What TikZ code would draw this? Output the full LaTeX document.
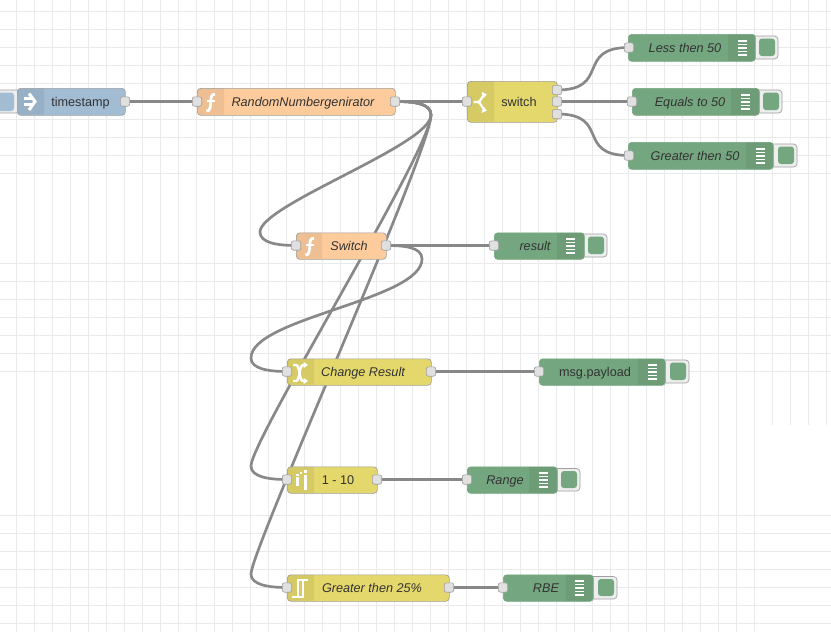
\documentclass[tikz,border=0pt]{standalone}
\usepackage{fontspec}
\setmainfont{Liberation Sans}
\usetikzlibrary{calc}
\pgfdeclarelayer{gridlayer}
\pgfdeclarelayer{wirelayer}
\pgfsetlayers{gridlayer,wirelayer,main}
\definecolor{gridc}{HTML}{EAEAEA}
\definecolor{wirec}{HTML}{888888}
\definecolor{edgec}{HTML}{A0A0A0}
\definecolor{txtc}{HTML}{333333}
\definecolor{inject}{HTML}{A2BCD3}
\definecolor{func}{HTML}{FDCB9C}
\definecolor{yel}{HTML}{E4D76B}
\definecolor{grn}{HTML}{74A67F}
\definecolor{portc}{HTML}{E0E0E0}
\definecolor{btnc}{HTML}{EEEEEE}
\tikzset{
  gridline/.style={gridc,line width=0.7pt},
  wire/.style={wirec,line width=2pt},
  body/.style={draw=edgec,line width=0.5pt,rounded corners=2.6pt,inner sep=0,anchor=north west},
  greenbody/.style={body,draw=grn},
  iconshade/.style={fill=black,fill opacity=0.06},
  port/.style={draw=edgec,fill=portc,line width=0.5pt,rounded corners=1.6pt,minimum size=7pt,inner sep=0},
  lab/.style={text=txtc,inner sep=0,anchor=base,yshift=-3.4pt,font=\fontsize{9.5}{11}\selectfont},
  ilab/.style={lab,font=\fontsize{9.5}{11}\selectfont\itshape},
  icon/.style={white,line width=1.5pt},
  btn/.style={draw=edgec,fill=btnc,line width=0.5pt,rounded corners=2.6pt},
}
% #1 name, #2 x1, #3 x2, #4 y1, #5 y2, #6 fill, #7 body style
\newcommand{\nrbody}[7]{%
  \node[#7,fill=#6,minimum width={(#3-#2)*0.75pt},minimum height={(#5-#4)*0.75pt}] (#1) at (#2,#4) {};
}
% left icon band: x1, y1, y2, divider
\newcommand{\lband}[4]{\fill[iconshade] (#4,#2) -- (#1+3.4,#2) arc[start angle=90,end angle=180,radius=2.6pt] -- (#1,#3-3.4) arc[start angle=180,end angle=270,radius=2.6pt] -- (#4,#3) -- cycle;}
% right band for debug nodes (div,x2,y1,y2)
\newcommand{\rband}[4]{\fill[iconshade] (#1,#3) -- (#2-3.4,#3) arc[start angle=90,end angle=0,radius=2.6pt] -- (#2,#4-3.4) arc[start angle=0,end angle=-90,radius=2.6pt] -- (#1,#4) -- cycle;}
% debug button (x2,right,y1,y2)
\newcommand{\dbtn}[4]{%
  \draw[btn] (#1-6,#3+2) rectangle (#2,#4-2);
  \fill[grn,rounded corners=2.2pt] (#2-19,#3+4.5) rectangle (#2-3,#4-5);
}
% debug stripes (cx,cy)
\newcommand{\stripes}[2]{%
  \foreach \k in {-2,...,2}{\fill[white] (#1-4.5,#2+\k*3.6-0.8) rectangle (#1+4.5,#2+\k*3.6+0.8);}
}
% function icon (cx,cy)
\newcommand{\fnicon}[2]{%
  \draw[icon,line width=2.1pt] (#1+4.5,#2-8) .. controls (#1+1.5,#2-8.6) and (#1+0.5,#2-6) .. (#1+0.3,#2-2) .. controls (#1+0.1,#2+3) and (#1,#2+9) .. (#1-4,#2+8.6);
  \draw[icon,line width=1.3pt] (#1-3.5,#2-1.5) -- (#1+4.5,#2-1.5);
}
\begin{document}
\begin{tikzpicture}[x=0.75pt,y=-0.75pt]
\useasboundingbox (0,0) rectangle (831,632);
\begin{pgfonlayer}{gridlayer}
  \fill[white] (0,0) rectangle (831,632);
  \foreach \k in {0,...,41}{\draw[gridline] (16.5+18*\k,0) -- (16.5+18*\k,632);}
  \foreach \k in {42,...,45}{\draw[gridline] (16.5+18*\k,0) -- (16.5+18*\k,425);}
  \foreach \k in {0,...,9}{\draw[gridline] (0,11.5+18*\k) -- (831,11.5+18*\k);}
  \foreach \k in {0,...,6}{\draw[gridline] (0,263.5+18*\k) -- (831,263.5+18*\k);}
  \foreach \k in {0,...,6}{\draw[gridline] (0,515.5+18*\k) -- (831,515.5+18*\k);}
\end{pgfonlayer}

% --- inject button
\draw[btn] (-6,90) rectangle (20,113);
\fill[inject,rounded corners=2.2pt] (-6,92.5) rectangle (14,111);

% --- debug buttons
\dbtn{755}{778}{34}{61}
\dbtn{759}{782}{88}{115}
\dbtn{773}{797}{142}{169}
\dbtn{584}{607}{232}{259}
\dbtn{665}{689}{358}{385}
\dbtn{557}{580}{466.5}{493}
\dbtn{593}{617}{574.5}{601}

% --- bodies
\nrbody{ts}{17}{125}{88}{115}{inject}{body}
\nrbody{rand}{197}{395}{88}{115}{func}{body}
\nrbody{sw}{467}{557}{81}{122}{yel}{body}
\nrbody{lt}{628}{755}{34}{61}{grn}{greenbody}
\nrbody{eq}{632}{759}{88}{115}{grn}{greenbody}
\nrbody{gt}{628}{773}{142}{169}{grn}{greenbody}
\nrbody{fsw}{296}{386}{232.5}{259}{func}{body}
\nrbody{res}{494}{584}{232.5}{259}{grn}{greenbody}
\nrbody{chg}{287}{431}{358.5}{385}{yel}{body}
\nrbody{pay}{539}{665}{358.5}{385}{grn}{greenbody}
\nrbody{rng}{287}{377}{466.5}{493}{yel}{body}
\nrbody{rdbg}{467}{557}{466.5}{493}{grn}{greenbody}
\nrbody{rbe}{287}{449}{574.5}{601}{yel}{body}
\nrbody{rbed}{503}{593}{574.5}{601}{grn}{greenbody}

% --- icon bands
\lband{17.3}{88.3}{114.7}{44}
\lband{197.3}{88.3}{114.7}{224}
\lband{467.3}{81.3}{121.7}{494}
\lband{296.3}{232.8}{258.7}{322}
\lband{287.3}{358.8}{384.7}{314}
\lband{287.3}{466.8}{492.7}{314}
\lband{287.3}{574.8}{600.7}{314}
\rband{728}{754.7}{34.3}{60.7}
\rband{731}{758.7}{88.3}{114.7}
\rband{746}{772.7}{142.3}{168.7}
\rband{557}{583.7}{232.8}{258.7}
\rband{638}{664.7}{358.8}{384.7}
\rband{529}{556.7}{466.8}{492.7}
\rband{566}{592.7}{574.8}{600.7}

% --- icons
% inject
\draw[icon,line width=1.6pt] (24,98.5) -- (32,98.5) (24,104.5) -- (32,104.5);
\draw[icon,line width=2.3pt,line join=miter] (29,93.5) -- (35,101.5) -- (29,110);
% function
\fnicon{210.5}{102.5}
\fnicon{309.5}{246.5}
% switch
\draw[icon,line width=1.7pt] (473.5,102) -- (478,102) .. controls (480.5,102) and (481,97) .. (484.5,95.5);
\draw[icon,line width=1.7pt] (478,102) .. controls (480.5,102) and (481,107) .. (484.5,109);
\fill[white] (487,94.5) -- (481.5,91.8) -- (483,98) -- cycle;
\fill[white] (487,110.5) -- (481.5,113) -- (483,107) -- cycle;
% change
\draw[icon,line width=1.8pt] (293,365) -- (296,365) .. controls (300,365) and (299,381) .. (303,381) -- (305,381);
\draw[icon,line width=1.8pt] (293,381) -- (296,381) .. controls (300,381) and (299,365) .. (303,365) -- (305,365);
\fill[white] (308,365) -- (303.5,361.8) -- (303.5,368.2) -- cycle;
\fill[white] (308,381) -- (303.5,377.8) -- (303.5,384.2) -- cycle;
% range
\fill[white] (296,477) rectangle (298.5,486);
\fill[white] (296,473.5) rectangle (298.5,475.5);
\fill[white] (304,475) rectangle (307,490);
\fill[white] (304,470) rectangle (307,473);
\fill[white] (300,472) rectangle (301.5,474);
% rbe
\draw[icon,line width=1.5pt] (292,597) -- (303,597) -- (303,580) -- (308,580) -- (298,580) -- (298,597);
% debug stripes
\stripes{742}{48}
\stripes{745}{102}
\stripes{760}{156}
\stripes{570}{246}
\stripes{652}{372}
\stripes{543}{480}
\stripes{579}{588}

% --- labels
\node[lab] (tslab) at (80.5,101.5) {timestamp};
\node[ilab] (randlab) at (303,101.5) {RandomNumbergenirator};
\node[lab] (swlab) at (519,101.5) {switch};
\node[ilab] (ltlab) at (685,47.5) {Less then 50};
\node[ilab] (eqlab) at (690,101.5) {Equals to 50};
\node[ilab] (gtlab) at (695,155.5) {Greater then 50};
\node[ilab] (fswlab) at (349,245.5) {Switch};
\node[ilab] (reslab) at (535,245.5) {result};
\node[ilab] (chglab) at (363,371.5) {Change Result};
\node[lab] (paylab) at (595,371.5) {msg.payload};
\node[lab] (rnglab) at (338,479.5) {1 - 10};
\node[ilab] (rdbglab) at (505,479.5) {Range};
\node[ilab] (rbelab) at (372,587.5) {Greater then 25\%};
\node[ilab] (rbedlab) at (546,587.5) {RBE};

% --- ports
\node[port] (ts-o) at (125,101.5) {};
\node[port] (rand-i) at (197,101.5) {};
\node[port] (rand-o) at (395,101.5) {};
\node[port] (sw-i) at (467,101.5) {};
\node[port] (sw-a) at (557,90) {};
\node[port] (sw-b) at (557,101.5) {};
\node[port] (sw-c) at (557,114) {};
\node[port] (lt-i) at (629,47.5) {};
\node[port] (eq-i) at (632,101.5) {};
\node[port] (gt-i) at (629,155.5) {};
\node[port] (fsw-i) at (296,245.5) {};
\node[port] (fsw-o) at (386,245.5) {};
\node[port] (res-i) at (494,245.5) {};
\node[port] (chg-i) at (287,371.5) {};
\node[port] (chg-o) at (431,371.5) {};
\node[port] (pay-i) at (539,371.5) {};
\node[port] (rng-i) at (287,479.5) {};
\node[port] (rng-o) at (377,479.5) {};
\node[port] (rdbg-i) at (467,479.5) {};
\node[port] (rbe-i) at (287,587.5) {};
\node[port] (rbe-o) at (449,587.5) {};
\node[port] (rbed-i) at (503,587.5) {};

% --- wires
\begin{pgfonlayer}{wirelayer}
  \draw[wire] (ts-o.center) -- (rand-i.center);
  \draw[wire] (rand-o.center) -- (sw-i.center);
  \draw[wire] (sw-a.center) .. controls +(54,0) and +(-54,0) .. (lt-i.center);
  \draw[wire] (sw-b.center) -- (eq-i.center);
  \draw[wire] (sw-c.center) .. controls +(54,0) and +(-54,0) .. (gt-i.center);
  \draw[wire] (fsw-o.center) -- (res-i.center);
  \draw[wire] (chg-o.center) -- (pay-i.center);
  \draw[wire] (rng-o.center) -- (rdbg-i.center);
  \draw[wire] (rbe-o.center) -- (rbed-i.center);
  \draw[wire] (rand-o.center) .. controls (413,101.5) and (431,103) .. (431,115) .. controls (431,145) and (260,205) .. (260,232) .. controls (260,243) and (278,245.5) .. (fsw-i.center);
  \draw[wire] (rand-o.center) .. controls (413,101.5) and (431,103) .. (431,115) .. controls (431,150) and (251,440) .. (251,466) .. controls (251,477) and (269,479.5) .. (rng-i.center);
  \draw[wire] (rand-o.center) .. controls (413,101.5) and (431,103) .. (431,115) .. controls (431,150) and (251,550) .. (251,574) .. controls (251,585) and (269,587.5) .. (rbe-i.center);
  \draw[wire] (fsw-o.center) .. controls (404,245.5) and (422,247) .. (422,259) .. controls (422,300) and (251,318) .. (251,358) .. controls (251,369) and (269,371.5) .. (chg-i.center);
\end{pgfonlayer}
\end{tikzpicture}
\end{document}
